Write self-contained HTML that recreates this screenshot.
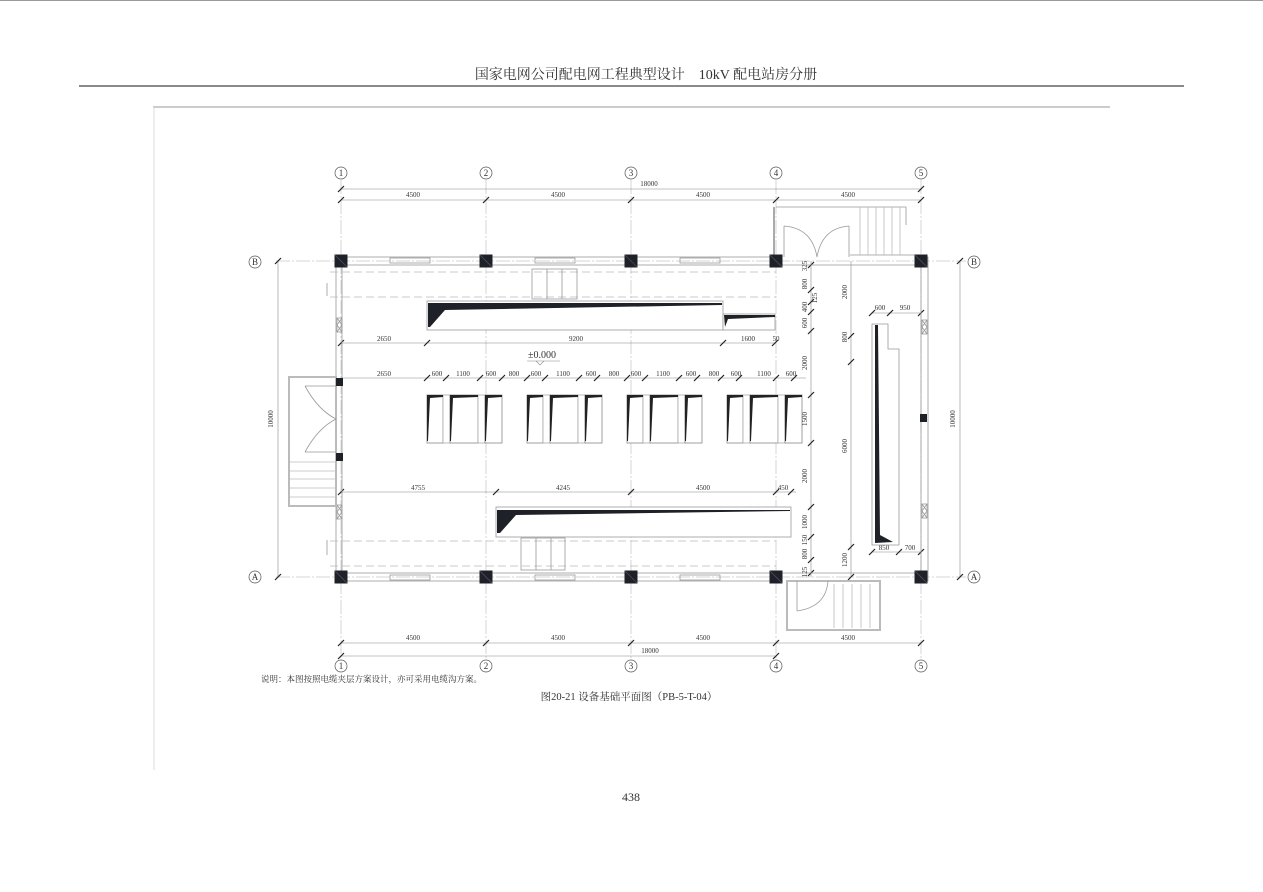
<!DOCTYPE html>
<html><head><meta charset="utf-8"><style>
html,body{margin:0;padding:0;background:#fff;width:1263px;height:892px;overflow:hidden}
svg{display:block}
text{font-family:"Liberation Serif","Noto Serif CJK SC",serif;fill:#333}
.d{font-size:7px;fill:#555}
</style></head><body>
<svg width="1263" height="892" viewBox="0 0 1263 892" xmlns="http://www.w3.org/2000/svg">
<defs>
<g id="col"><rect x="-6.5" y="-6.5" width="13" height="13" fill="#1e2228"/><line x1="-6" y1="-6" x2="6" y2="6" stroke="#556" stroke-width="0.6"/></g>
<g id="tk"><line x1="-3" y1="3" x2="3" y2="-3" stroke="#222" stroke-width="1.2"/></g>
<g id="cab">
<rect x="0" y="0" width="16" height="48" fill="#fff" stroke="#888" stroke-width="0.8"/>
<rect x="16" y="0" width="7" height="48" fill="#fff" stroke="#aaa" stroke-width="0.8"/>
<rect x="23" y="0" width="28" height="48" fill="#fff" stroke="#888" stroke-width="0.8"/>
<rect x="51" y="0" width="7" height="48" fill="#fff" stroke="#aaa" stroke-width="0.8"/>
<rect x="58" y="0" width="17" height="48" fill="#fff" stroke="#888" stroke-width="0.8"/>
<polygon points="0,0 16,0 16,2 3,3 1,46 0,46" fill="#222"/>
<polygon points="23,0 51,0 51,2 26,3 24,46 23,46" fill="#222"/>
<polygon points="58,0 75,0 75,2 61,3 59,46 58,46" fill="#222"/>
</g>
</defs>
<line x1="0" y1="0.5" x2="1263" y2="0.5" stroke="#999" stroke-width="1"/>
<text x="646" y="79" text-anchor="middle" style="font-size:14px">国家电网公司配电网工程典型设计　10kV 配电站房分册</text>
<line x1="79" y1="86" x2="1184" y2="86" stroke="#444" stroke-width="1.3"/>
<line x1="153" y1="107" x2="1110" y2="107" stroke="#ccc" stroke-width="2"/>
<line x1="154" y1="107" x2="154" y2="770" stroke="#ddd" stroke-width="1"/>

<g stroke="#888" stroke-width="0.6" fill="none">
<g stroke="#aaa" stroke-width="0.5">
<line x1="341" y1="180" x2="341" y2="660" stroke-dasharray="14,2,2,2"/>
<line x1="486" y1="180" x2="486" y2="660" stroke-dasharray="14,2,2,2"/>
<line x1="631" y1="180" x2="631" y2="660" stroke-dasharray="14,2,2,2"/>
<line x1="776" y1="180" x2="776" y2="660" stroke-dasharray="14,2,2,2"/>
<line x1="921" y1="180" x2="921" y2="660" stroke-dasharray="14,2,2,2"/>
<line x1="276" y1="261" x2="966" y2="261" stroke-dasharray="14,2,2,2"/>
<line x1="276" y1="577" x2="966" y2="577" stroke-dasharray="14,2,2,2"/>
</g>
<line x1="341" y1="189" x2="921" y2="189"/>
<line x1="341" y1="200" x2="921" y2="200"/>
<line x1="341" y1="643" x2="921" y2="643"/>
<line x1="341" y1="656" x2="776" y2="656"/>
<line x1="278" y1="261" x2="278" y2="577"/>
<line x1="960" y1="261" x2="960" y2="577"/>
<line x1="341" y1="343" x2="776" y2="343"/>
<line x1="341" y1="378" x2="806" y2="378"/>
<line x1="341" y1="492" x2="796" y2="492"/>
<line x1="811" y1="261" x2="811" y2="577"/>
<line x1="851" y1="261" x2="851" y2="577"/>
<line x1="872" y1="313" x2="921" y2="313"/>
<line x1="872" y1="552" x2="921" y2="552"/>
</g>
<g>
<use href="#tk" x="341" y="189"/><use href="#tk" x="921" y="189"/>
<use href="#tk" x="341" y="200"/><use href="#tk" x="486" y="200"/><use href="#tk" x="631" y="200"/><use href="#tk" x="776" y="200"/><use href="#tk" x="921" y="200"/>
<use href="#tk" x="341" y="643"/><use href="#tk" x="486" y="643"/><use href="#tk" x="631" y="643"/><use href="#tk" x="776" y="643"/><use href="#tk" x="921" y="643"/>
<use href="#tk" x="341" y="656"/><use href="#tk" x="776" y="656"/>
<use href="#tk" x="278" y="261"/><use href="#tk" x="278" y="577"/><use href="#tk" x="960" y="261"/><use href="#tk" x="960" y="577"/>
<use href="#tk" x="341" y="343"/><use href="#tk" x="427" y="343"/><use href="#tk" x="723" y="343"/><use href="#tk" x="775" y="343"/>
<use href="#tk" x="341" y="492"/><use href="#tk" x="496" y="492"/><use href="#tk" x="631" y="492"/><use href="#tk" x="776" y="492"/><use href="#tk" x="791" y="492"/>
<use href="#tk" x="811" y="265"/><use href="#tk" x="811" y="290"/><use href="#tk" x="811" y="302"/><use href="#tk" x="811" y="312"/><use href="#tk" x="811" y="331"/><use href="#tk" x="811" y="395"/><use href="#tk" x="811" y="443"/><use href="#tk" x="811" y="507"/><use href="#tk" x="811" y="537"/><use href="#tk" x="811" y="560"/><use href="#tk" x="811" y="573"/>
<use href="#tk" x="851" y="336"/><use href="#tk" x="851" y="362"/><use href="#tk" x="851" y="547"/><use href="#tk" x="851" y="577"/>
<use href="#tk" x="872" y="313"/><use href="#tk" x="890" y="313"/><use href="#tk" x="921" y="313"/>
<use href="#tk" x="872" y="552"/><use href="#tk" x="899" y="552"/><use href="#tk" x="921" y="552"/>
</g>
<g>
<use href="#tk" x="427" y="378"/><use href="#tk" x="446" y="378"/><use href="#tk" x="480" y="378"/><use href="#tk" x="502" y="378"/>
<use href="#tk" x="527" y="378"/><use href="#tk" x="545" y="378"/><use href="#tk" x="579" y="378"/><use href="#tk" x="597" y="378"/>
<use href="#tk" x="627" y="378"/><use href="#tk" x="645" y="378"/><use href="#tk" x="679" y="378"/><use href="#tk" x="697" y="378"/>
<use href="#tk" x="721" y="378"/><use href="#tk" x="739" y="378"/><use href="#tk" x="776" y="378"/><use href="#tk" x="794" y="378"/>
</g>
<g fill="#fff" stroke="#555" stroke-width="0.7">
<circle cx="341" cy="173" r="6"/><circle cx="486" cy="173" r="6"/><circle cx="631" cy="173" r="6"/><circle cx="776" cy="173" r="6"/><circle cx="921" cy="173" r="6"/>
<circle cx="341" cy="666" r="6"/><circle cx="486" cy="666" r="6"/><circle cx="631" cy="666" r="6"/><circle cx="776" cy="666" r="6"/><circle cx="921" cy="666" r="6"/>
<circle cx="255" cy="262" r="6"/><circle cx="255" cy="577" r="6"/><circle cx="974" cy="262" r="6"/><circle cx="974" cy="577" r="6"/>
</g>
<g style="font-size:9px" text-anchor="middle">
<text x="341" y="176">1</text><text x="486" y="176">2</text><text x="631" y="176">3</text><text x="776" y="176">4</text><text x="921" y="176">5</text>
<text x="341" y="669">1</text><text x="486" y="669">2</text><text x="631" y="669">3</text><text x="776" y="669">4</text><text x="921" y="669">5</text>
<text x="255" y="265">B</text><text x="255" y="580">A</text><text x="974" y="265">B</text><text x="974" y="580">A</text>
</g>
<g fill="none" stroke="#999" stroke-width="0.8">
<rect x="336" y="257" width="444" height="8"/>
<rect x="336" y="573" width="444" height="8"/>
<rect x="336" y="257" width="6" height="324"/>
<rect x="921" y="257" width="7" height="324"/>
<line x1="776" y1="265" x2="921" y2="265"/>
<line x1="776" y1="573" x2="921" y2="573"/>
<rect x="390" y="258" width="40" height="5"/><rect x="535" y="258" width="40" height="5"/><rect x="680" y="258" width="40" height="5"/>
<rect x="390" y="575" width="40" height="5"/><rect x="535" y="575" width="40" height="5"/><rect x="680" y="575" width="40" height="5"/>
<line x1="330" y1="272" x2="776" y2="272" stroke="#bbb" stroke-dasharray="8,4"/>
<line x1="330" y1="297" x2="776" y2="297" stroke="#bbb" stroke-dasharray="8,4"/>
<line x1="330" y1="541" x2="776" y2="541" stroke="#bbb" stroke-dasharray="8,4"/>
<line x1="330" y1="566" x2="776" y2="566" stroke="#bbb" stroke-dasharray="8,4"/>
<rect x="532" y="269" width="45" height="30"/><line x1="547" y1="269" x2="547" y2="299"/><line x1="562" y1="269" x2="562" y2="299"/>
<rect x="521" y="538" width="44" height="32"/><line x1="536" y1="538" x2="536" y2="570"/><line x1="551" y1="538" x2="551" y2="570"/>
<rect x="337" y="318" width="5" height="14"/><path d="M337 318l5 7l-5 7M342 318l-5 7l5 7"/>
<rect x="337" y="505" width="5" height="14"/><path d="M337 505l5 7l-5 7M342 505l-5 7l5 7"/>
<rect x="922" y="320" width="5" height="14"/><path d="M922 320l5 7l-5 7M927 320l-5 7l5 7"/>
<rect x="922" y="504" width="5" height="14"/><path d="M922 504l5 7l-5 7M927 504l-5 7l5 7"/>
<path d="M776 207 H906 V225"/><line x1="774" y1="207" x2="774" y2="257" stroke="#aaa" stroke-width="2"/>
<path d="M784 226 V257 M849 226 V257 M784 226 Q812 228 817 257 M849 226 Q822 228 817 257"/>
<g stroke="#bbb"><line x1="860" y1="207" x2="860" y2="255"/><line x1="868" y1="207" x2="868" y2="255"/><line x1="876" y1="207" x2="876" y2="255"/><line x1="884" y1="207" x2="884" y2="255"/><line x1="892" y1="207" x2="892" y2="255"/><line x1="900" y1="207" x2="900" y2="255"/></g>
<line x1="850" y1="255" x2="921" y2="255"/>
<rect x="787" y="581" width="93" height="49" stroke="#bbb" stroke-width="2"/>
<path d="M797 581 V611 M797 611 Q826 607 828 581"/>
<g stroke="#bbb"><line x1="834" y1="584" x2="834" y2="628"/><line x1="843" y1="584" x2="843" y2="628"/><line x1="852" y1="584" x2="852" y2="628"/><line x1="861" y1="584" x2="861" y2="628"/><line x1="870" y1="584" x2="870" y2="628"/></g>
<rect x="289" y="377" width="47" height="129" stroke="#bbb" stroke-width="2"/>
<path d="M305 386 H336 M305 452 H336 M305 386 Q318 410 336 419 M305 452 Q318 428 336 419"/>
<g stroke="#bbb"><line x1="289" y1="462" x2="336" y2="462"/><line x1="289" y1="471" x2="336" y2="471"/><line x1="289" y1="479" x2="336" y2="479"/><line x1="289" y1="488" x2="336" y2="488"/><line x1="289" y1="497" x2="336" y2="497"/></g>
<path d="M327 283 V296 M327 540 V555"/>
</g>
<use href="#col" x="341" y="261"/><use href="#col" x="486" y="261"/><use href="#col" x="631" y="261"/><use href="#col" x="776" y="261"/><use href="#col" x="921" y="261"/>
<use href="#col" x="341" y="577"/><use href="#col" x="486" y="577"/><use href="#col" x="631" y="577"/><use href="#col" x="776" y="577"/><use href="#col" x="921" y="577"/>
<rect x="336" y="378" width="7" height="8" fill="#1e2228"/><rect x="336" y="453" width="7" height="8" fill="#1e2228"/>
<rect x="920" y="414" width="7" height="8" fill="#1e2228"/>
<rect x="427" y="301" width="296" height="29" fill="#fff" stroke="#999" stroke-width="0.8"/>
<polygon points="428,303 722,303 722,305 445,310 430,327 428,327" fill="#1e2228"/>
<rect x="723" y="314" width="52" height="16" fill="#fff" stroke="#999" stroke-width="0.8"/>
<polygon points="724,315 775,315 775,317 728,319 725,327" fill="#1e2228"/>
<rect x="496" y="507" width="295" height="30" fill="#fff" stroke="#999" stroke-width="0.8"/>
<polygon points="497,510 790,510 790,511 516,515 500,533 497,533" fill="#1e2228"/>
<path d="M872 324 H888 V349 H899 V545 H872 Z" fill="#fff" stroke="#999" stroke-width="0.8"/>
<polygon points="875,325 878,325 880,535 893,542 875,543" fill="#1e2228"/>
<use href="#cab" x="427" y="395"/><use href="#cab" x="527" y="395"/><use href="#cab" x="627" y="395"/><use href="#cab" x="727" y="395"/>
<g class="d" text-anchor="middle">
<text x="649" y="186">18000</text>
<text x="413" y="197">4500</text><text x="558" y="197">4500</text><text x="703" y="197">4500</text><text x="848" y="197">4500</text>
<text x="413" y="640">4500</text><text x="558" y="640">4500</text><text x="703" y="640">4500</text><text x="848" y="640">4500</text>
<text x="650" y="653">18000</text>
<text x="384" y="341">2650</text><text x="576" y="341">9200</text><text x="748" y="341">1600</text><text x="776" y="341">50</text>
<text x="384" y="376">2650</text><text x="437" y="376">600</text><text x="463" y="376">1100</text><text x="491" y="376">600</text><text x="514" y="376">800</text>
<text x="536" y="376">600</text><text x="563" y="376">1100</text><text x="591" y="376">600</text><text x="614" y="376">800</text>
<text x="636" y="376">600</text><text x="663" y="376">1100</text><text x="691" y="376">600</text><text x="714" y="376">800</text>
<text x="736" y="376">600</text><text x="764" y="376">1100</text><text x="791" y="376">600</text>
<text x="418" y="490">4755</text><text x="563" y="490">4245</text><text x="703" y="490">4500</text><text x="783" y="490">450</text>
<text x="880" y="310">600</text><text x="905" y="310">950</text>
<text x="884" y="550">850</text><text x="910" y="550">700</text>
</g>
<g class="d" text-anchor="middle">
<text transform="translate(273,419) rotate(-90)">10000</text>
<text transform="translate(955,419) rotate(-90)">10000</text>
<text transform="translate(807,266) rotate(-90)">325</text>
<text transform="translate(807,284) rotate(-90)">800</text>
<text transform="translate(817,298) rotate(-90)">125</text>
<text transform="translate(807,307) rotate(-90)">400</text>
<text transform="translate(807,323) rotate(-90)">600</text>
<text transform="translate(807,363) rotate(-90)">2000</text>
<text transform="translate(807,419) rotate(-90)">1500</text>
<text transform="translate(807,476) rotate(-90)">2000</text>
<text transform="translate(807,522) rotate(-90)">1000</text>
<text transform="translate(807,540) rotate(-90)">150</text>
<text transform="translate(807,554) rotate(-90)">800</text>
<text transform="translate(807,572) rotate(-90)">125</text>
<text transform="translate(847,292) rotate(-90)">2000</text>
<text transform="translate(847,337) rotate(-90)">800</text>
<text transform="translate(847,446) rotate(-90)">6000</text>
<text transform="translate(847,560) rotate(-90)">1200</text>
</g>
<text x="528" y="358" style="font-size:10px">±0.000</text>
<line x1="527" y1="361" x2="560" y2="361" stroke="#888" stroke-width="0.6"/>
<path d="M536 361 l4 4 l4 -4" fill="none" stroke="#888" stroke-width="0.6"/>
<text x="261" y="682" style="font-size:8.5px">说明：本图按照电缆夹层方案设计，亦可采用电缆沟方案。</text>
<text x="629" y="700" text-anchor="middle" style="font-size:10.5px">图20-21 设备基础平面图（PB-5-T-04）</text>
<text x="631" y="801" text-anchor="middle" style="font-size:12px">438</text>
</svg>
</body></html>
